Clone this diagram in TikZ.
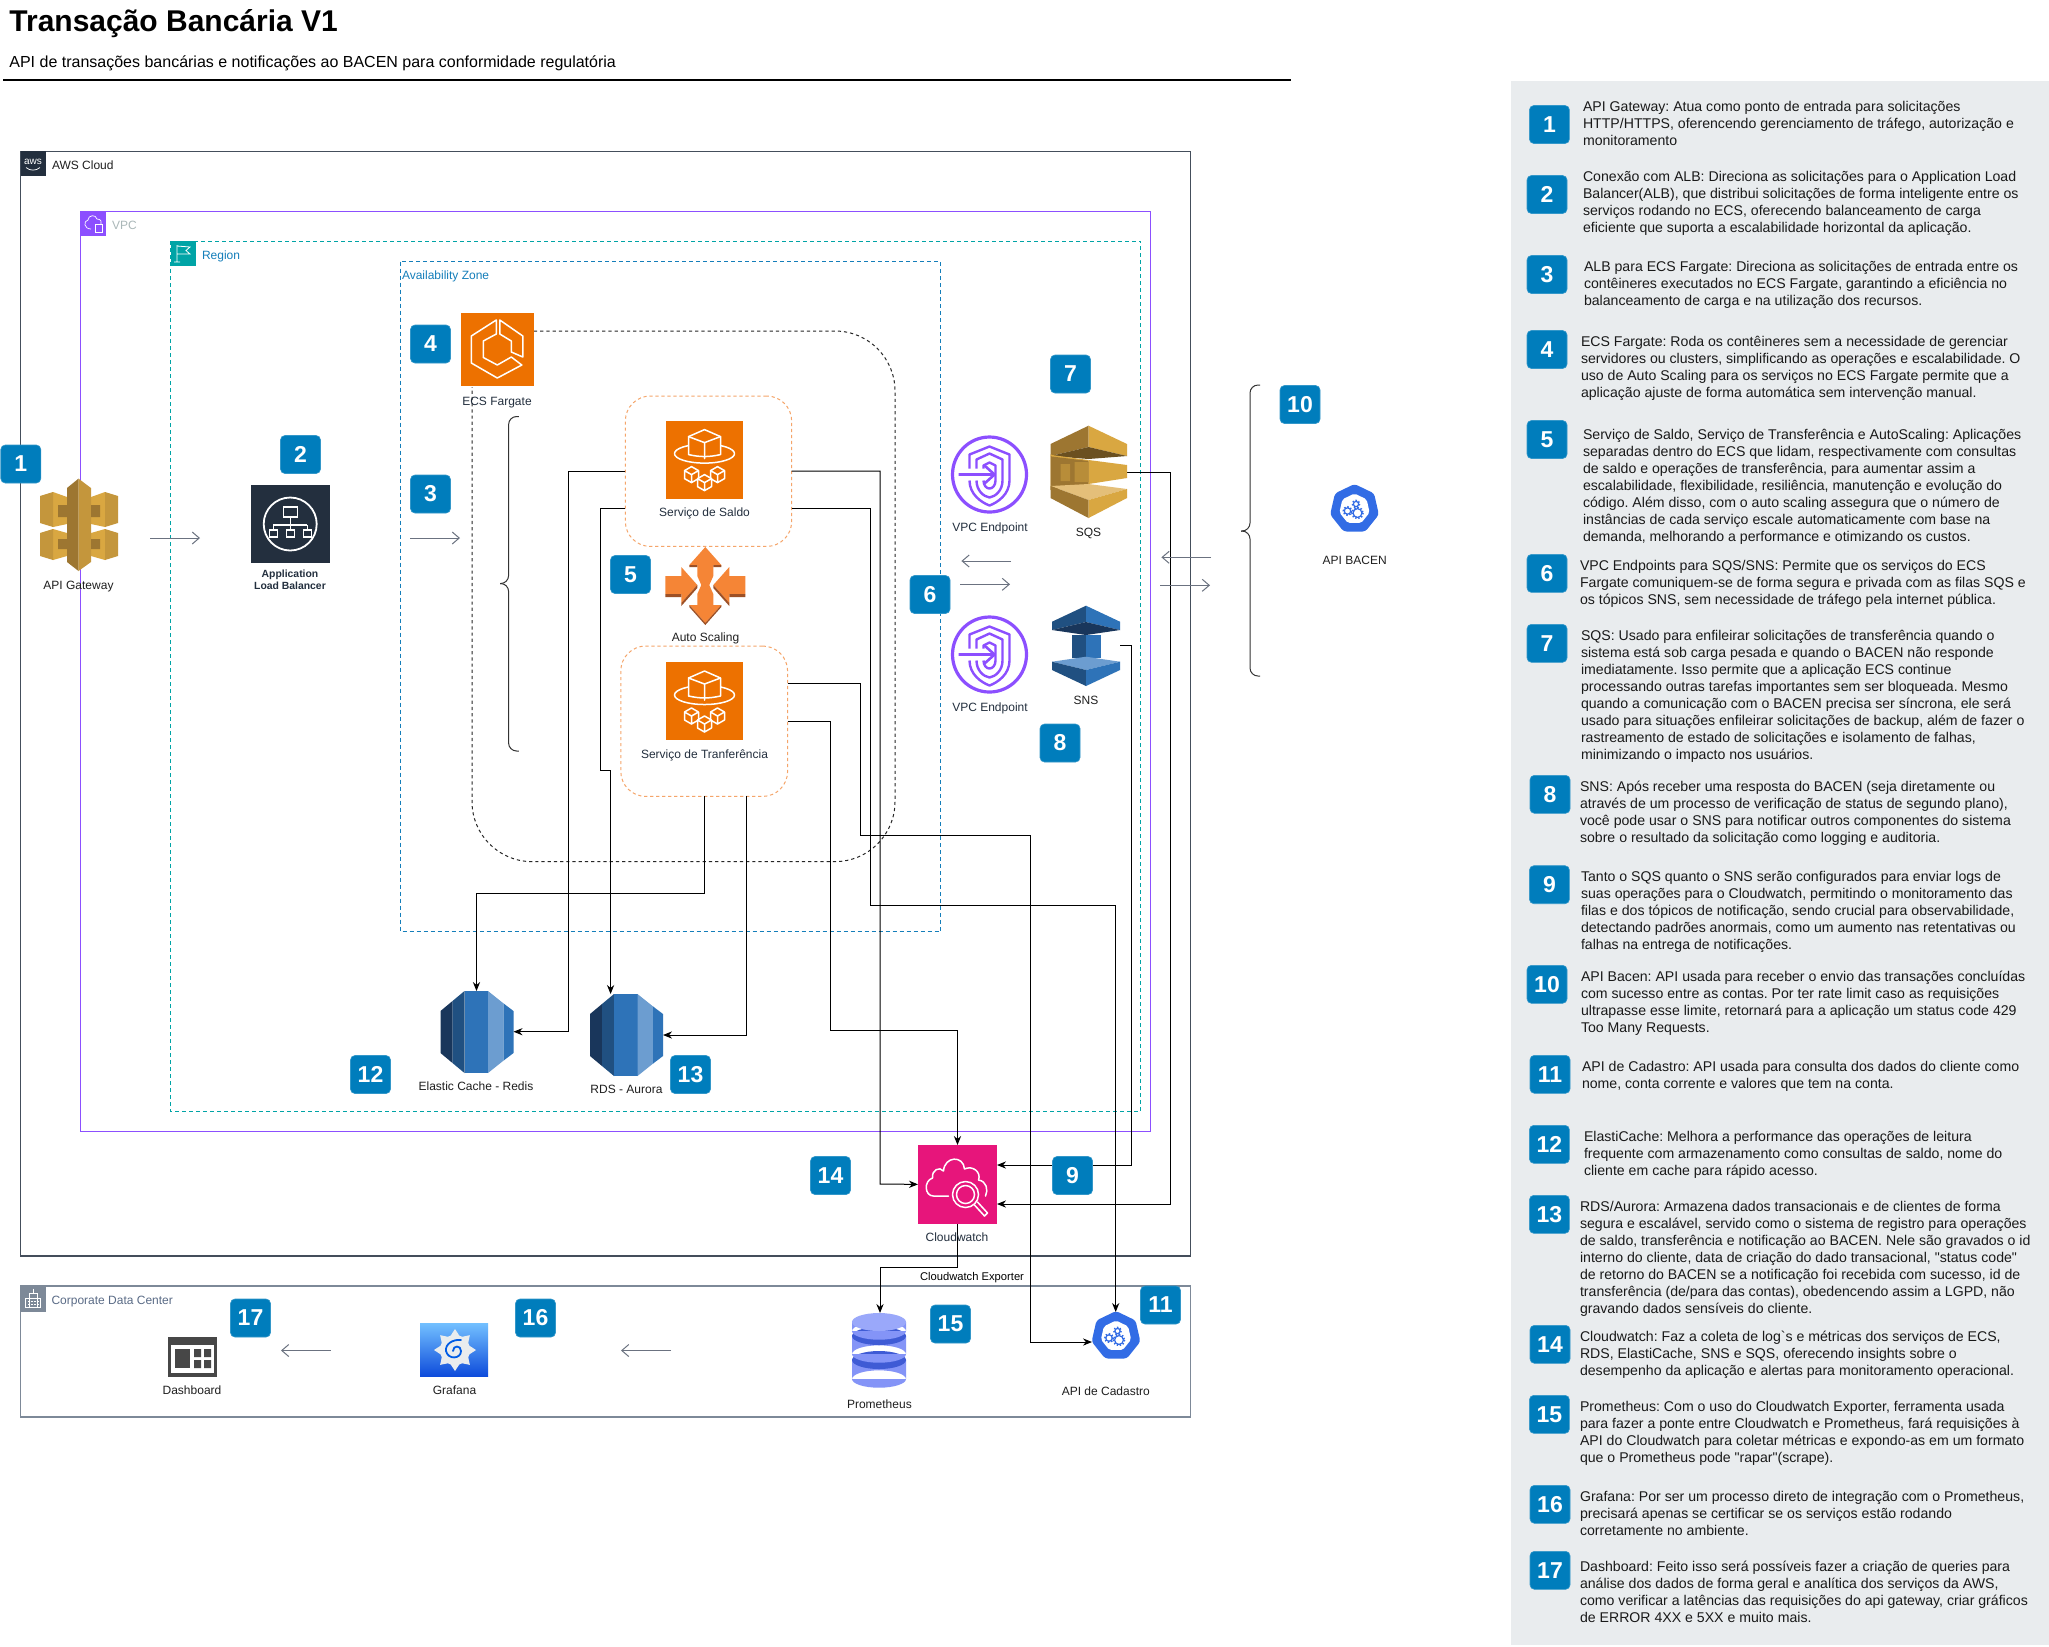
\documentclass[tikz,border=0pt]{standalone}
\usepackage{fontspec}
\newfontfamily\arial{Liberation Sans}
\usetikzlibrary{arrows.meta}
\definecolor{badgeblue}{HTML}{007DBC}
\definecolor{panelgrey}{HTML}{E9ECEE}
\definecolor{awsdark}{HTML}{232F3E}
\definecolor{vpcpurple}{HTML}{8C4FFF}
\definecolor{regionteal}{HTML}{00A4A6}
\definecolor{azblue}{HTML}{147EBA}
\definecolor{vpcgrey}{HTML}{AAB7B8}
\definecolor{corpgrey}{HTML}{7D8998}
\definecolor{corptext}{HTML}{5A6B86}
\definecolor{arrowgrey}{HTML}{6B7280}
\definecolor{ecsorange}{HTML}{ED7100}
\definecolor{dashorange}{HTML}{F5A56A}
\definecolor{asorange}{HTML}{F58536}
\definecolor{asdark}{HTML}{9D5025}
\definecolor{golddark}{HTML}{9D7631}
\definecolor{gold}{HTML}{D9A741}
\definecolor{goldmid}{HTML}{C4963C}
\definecolor{goldlight}{HTML}{E4BF79}
\definecolor{goldshade}{HTML}{6B5020}
\definecolor{snsdark}{HTML}{205081}
\definecolor{snsmid}{HTML}{2E73B8}
\definecolor{snslight}{HTML}{6C9DD0}
\definecolor{snsdeep}{HTML}{19365B}
\definecolor{cwpink}{HTML}{E7157B}
\definecolor{kblue}{HTML}{326CE5}
\definecolor{promlight}{HTML}{9AA8FA}
\definecolor{prommid}{HTML}{8494F7}
\definecolor{promdark}{HTML}{3F5BD5}
\tikzset{
  badge/.style={rectangle,rounded corners=2.2pt,fill=badgeblue,draw=badgeblue!80!white,line width=.3pt,
    minimum width=20pt,minimum height=19pt,inner sep=0,text=white,font=\arial\bfseries\fontsize{11.5}{12}\selectfont},
  lbl/.style={inner sep=0,outer sep=0,yshift=-.5pt,font=\arial\fontsize{6}{7}\selectfont,text=black!88,text height=4.3pt,text depth=0pt},
  sidetxt/.style={anchor=north west,inner sep=0,outer sep=0,align=left,text=black!90,font=\arial\frenchspacing\fontsize{7.06}{8.5}\selectfont},
  link/.style={draw=black,line width=.5pt},
  linktip/.style={link,-{Stealth[length=4.5pt,width=3.6pt]}},
  greyarrow/.style={draw=arrowgrey,line width=.5pt,-{Straight Barb[length=3.5pt,width=6pt]}},
  whiteline/.style={draw=white,line width=.75pt,line join=round,line cap=round},
  brace/.style={draw=black!80,line width=.5pt,rounded corners=4pt},
}
\newcommand\iconbox[5]{\node[inner sep=0,outer sep=0,minimum width={((#4)-(#2))*0.5pt},minimum height={((#5)-(#3))*0.5pt}] (#1) at ({((#2)+(#4))/2},{((#3)+(#5))/2}) {};}
\newcommand\sidenote[4]{\node[sidetxt] (#1) at (#2,{#3-8}) {\rule{0pt}{6.5pt}#4};}
\newcommand\svcicon[3]{%
  \iconbox{#1}{#2-38.5}{#3-39}{#2+38.5}{#3+39}
  \fill[ecsorange] (#1.north west) rectangle (#1.south east);
  \begin{scope}[shift={(#2,#3)}]
    \draw[whiteline] (0,-6) ellipse (30 and 9.5);
    \fill[ecsorange] (0,-30)--(16,-23)--(16,-5)--(0,0)--(-16,-5)--(-16,-23)--cycle;
    \draw[whiteline] (0,-30)--(16,-23)--(16,-5) to[bend left=12] (-16,-5)--(-16,-23)--cycle;
    \draw[whiteline] (-16,-23)--(0,-17)--(16,-23) (0,-17)--(0,-1);
    \foreach \cx/\cy in {-13/15,13/15,0/23}{
      \begin{scope}[shift={(\cx,\cy)}]
        \fill[ecsorange] (0,-8)--(7,-4)--(7,4)--(0,8)--(-7,4)--(-7,-4)--cycle;
        \draw[whiteline] (0,-8)--(7,-4)--(7,4)--(0,8)--(-7,4)--(-7,-4)--cycle (-7,-4)--(0,0)--(7,-4) (0,0)--(0,8);
      \end{scope}}
  \end{scope}}
\newcommand\vpcicon[3]{%
  \iconbox{#1}{#2-38.5}{#3-38.5}{#2+38.5}{#3+38.5}
  \begin{scope}[shift={(#2,#3)},draw=vpcpurple,line width=1.2pt,line join=round]
    \draw[line width=1.6pt] (0,0) ellipse (37 and 37.5);
    \draw (-20,-6)--(-20,-20)--(0,-28)--(20,-20)--(20,6) .. controls (20,20) and (8,28) .. (0,31) .. controls (-8,28) and (-20,20) .. (-20,6);
    \draw (-13,-6)--(-13,-15)--(0,-21)--(13,-15)--(13,6) .. controls (13,16) and (6,22) .. (0,23) .. controls (-6,22) and (-13,16) .. (-13,6);
    \draw (-6,-6)--(-6,-9)--(0,-12)--(6,-9)--(6,6) .. controls (6,11) and (3,14) .. (0,14) .. controls (-3,14) and (-6,11) .. (-6,6);
    \fill[white] (-25,-5) rectangle (-2,5);
    \draw[line width=1.3pt] (-31,0)--(5,0) (-5,-9)--(5,0)--(-5,9);
  \end{scope}}
\newcommand\dbicon[3]{%
  \iconbox{#1}{#2}{#3}{#2+73}{#3+82}
  \begin{scope}[shift={(#2,#3)}]
    \fill[snsdeep] (0,20)--(12,10)--(12,72)--(0,62)--cycle;
    \fill[snsdark] (12,10)--(24,0)--(24,82)--(12,72)--cycle;
    \fill[snsmid] (24,0)--(47.5,0)--(47.5,82)--(24,82)--cycle;
    \fill[snslight] (47.5,0)--(63,12.4)--(63,69.6)--(47.5,82)--cycle;
    \fill[snsmid] (63,12.4)--(73,20)--(73,62)--(63,69.6)--cycle;
  \end{scope}}
\newcommand\kube[3]{%
  \iconbox{#1}{#2-24}{#3-24}{#2+24}{#3+24}
  \begin{scope}[shift={(#2,#3)}]
    \fill[kblue,rounded corners=1.5pt] (-90:25)--(-38.6:25)--(12.9:25)--(64.3:25)--(115.7:25)--(167.1:25)--(218.6:25)--cycle;
    \fill[white,rounded corners=1pt] (-90:15.5)--(-38.6:15.5)--(12.9:15.5)--(64.3:15.5)--(115.7:15.5)--(167.1:15.5)--(218.6:15.5)--cycle;
    \draw[kblue,line width=.6pt] (-7,2) circle (3.2) (3,4) circle (4.4) (1.5,-5) circle (2.6);
    \draw[kblue,line width=.8pt,dash pattern=on .7pt off .9pt] (-7,2) circle (4.2) (3,4) circle (5.6) (1.5,-5) circle (3.6);
  \end{scope}}
\begin{document}
\begin{tikzpicture}[x=0.5pt,y=-0.5pt]
\path[use as bounding box,fill=white] (0,0) rectangle (2049,1646);
% title
\node[anchor=west,inner sep=0,font=\arial\bfseries\fontsize{15}{18}\selectfont] (title) at (9,23.5) {Transação Bancária V1};
\node[anchor=west,inner sep=0,font=\arial\fontsize{8}{10}\selectfont] (subtitle) at (9,63) {API de transações bancárias e notificações ao BACEN para conformidade regulatória};
\draw[line width=1pt] (3,80)--(1291,80);
% panel
\fill[panelgrey] (1510.5,81) rectangle (2049,1645);
% groups
\draw[awsdark!85!white,line width=.55pt] (20.5,151.5) rectangle (1190.5,1256);
\draw[vpcpurple,line width=.5pt] (80.5,211.5) rectangle (1150.5,1131);
\draw[regionteal,line width=.5pt,dash pattern=on 2pt off 1.5pt] (170.5,241) rectangle (1140.7,1111.3);
\draw[azblue,line width=.5pt,dash pattern=on 2pt off 1.5pt] (400.5,261.5) rectangle (940.7,931.5);
\draw[corpgrey,line width=.55pt] (20.5,1286) rectangle (1190.5,1417);
% group tags
\iconbox{tagaws}{20.5}{151}{45.5}{176}
\fill[awsdark] (tagaws.north west) rectangle (tagaws.south east);
\node[inner sep=0,text=white,font=\arial\fontsize{5}{5}\selectfont] (tagawst) at (33,161.5) {aws};
\draw[white,line width=.35pt] (26,167.5) .. controls (30,171) and (36,171) .. (40,167.5);
\node[lbl,anchor=west] (lblaws) at (52,164.5) {AWS Cloud};
\iconbox{tagvpc}{80.5}{211.5}{105.5}{236}
\fill[vpcpurple] (tagvpc.north west) rectangle (tagvpc.south east);
\draw[white,line width=.35pt] (91,229) .. controls (84,229) and (83,221) .. (88,220) .. controls (88,215) and (96,214) .. (97,219) .. controls (101,219) and (102,222) .. (101,224);
\draw[white,line width=.4pt] (95,224) rectangle (102,232);
\node[lbl,anchor=west,text=vpcgrey] (lblvpc) at (112,224) {VPC};
\iconbox{tagreg}{170.5}{241}{195.5}{266}
\fill[regionteal] (tagreg.north west) rectangle (tagreg.south east);
\draw[white,line width=.4pt] (177,245)--(177,262) (174,262)--(180,262) (177,246)--(190,247)--(186,250.5)--(190,254)--(177,254);
\node[lbl,anchor=west,text=azblue] (lblreg) at (202,254.5) {Region};
\node[lbl,anchor=west,text=azblue] (lblaz) at (402,274.5) {Availability Zone};
\iconbox{tagcorp}{20.5}{1286}{45.5}{1311.7}
\fill[corpgrey] (tagcorp.north west) rectangle (tagcorp.south east);
\draw[white,line width=.35pt] (29,1293) rectangle (37,1307) (25.5,1298) rectangle (40.5,1307) (33,1288.5)--(33,1293);
\draw[white,line width=.5pt,dash pattern=on .8pt off .8pt] (28,1301)--(38,1301) (28,1304)--(38,1304);
\node[lbl,anchor=west,text=corptext] (lblcorp) at (51.5,1299) {Corporate Data Center};
% icon anchors needed by connectors
\iconbox{ecs}{460.5}{312.5}{534}{386}
\node[draw=dashorange,line width=.5pt,dash pattern=on 1.6pt off 1.4pt,rounded corners=12.5pt,inner sep=0,outer sep=0,minimum width=83.15pt,minimum height=75.2pt] (boxsaldo) at (708.5,471.2) {};
\node[draw=dashorange,line width=.5pt,dash pattern=on 1.6pt off 1.4pt,rounded corners=12.5pt,inner sep=0,outer sep=0,minimum width=83.4pt,minimum height=75.2pt] (boxtransf) at (704.2,721.2) {};
\dbicon{elastic}{440.5}{991}
\dbicon{rds}{590}{994}
\iconbox{sqs}{1050.5}{425.7}{1127}{518}
\iconbox{sns}{1052}{605.7}{1120}{686}
\iconbox{cw}{918}{1145}{997}{1223.7}
\iconbox{prom}{852}{1313}{906}{1387.7}
\kube{cadastro}{1116}{1336}
\kube{bacen}{1354.5}{509}
% ECS group dashed outline
\draw[black!85,line width=.5pt,dash pattern=on 1.6pt off 1.5pt,rounded corners=30pt] (ecs.east |- 0,331) -- (895,331) -- (895,861.6) -- (472,861.6) -- (472,387);
% braces
\draw[brace] (518.8,416.5) -- (508.6,416.5) -- (508.6,583.5) -- (500,583.5);
\draw[brace] (500,583.5) -- (508.6,583.5) -- (508.6,751) -- (518.8,751);
\draw[brace] (1260,385) -- (1250,385) -- (1250,531) -- (1241,531);
\draw[brace] (1241,531) -- (1250,531) -- (1250,676) -- (1260,676);
% connectors
\draw[linktip] (boxsaldo.west |- 0,471) -- (568.8,471) -- (568.8,1031.7) -- (elastic.east |- 0,1031.7);
\draw[linktip] (boxsaldo.west |- 0,508.5) -- (600.4,508.5) -- (600.4,770) -- (610.6,770) -- (rds.north -| 610.6,0);
\draw[linktip] (boxsaldo.east |- 0,471) -- (880,471) -- (880,1184) -- (cw.west);
\draw[linktip] (boxsaldo.east |- 0,508.5) -- (870.3,508.5) -- (870.3,905.4) -- (1115.7,905.4) -- (cadastro.north -| 1115.7,0);
\draw[linktip] (boxtransf.east |- 0,683.5) -- (860.6,683.5) -- (860.6,835) -- (1030.3,835) -- (1030.3,1342) -- (cadastro.west |- 0,1342);
\draw[linktip] (boxtransf.east |- 0,721) -- (830.5,721) -- (830.5,1030) -- (957.5,1030) -- (cw.north);
\draw[linktip] (boxtransf.south -| 704.5,0) -- (704.5,893.8) -- (476.5,893.8) -- (elastic.north -| 476.5,0);
\draw[linktip] (boxtransf.south -| 746,0) -- (746,1035) -- (rds.east |- 0,1035);
\draw[linktip] (sqs.east |- 0,472) -- (1170.5,472) -- (1170.5,1204) -- (cw.east |- 0,1204);
\draw[linktip] (sns.east |- 0,645.7) -- (1131,645.7) -- (1131,1165) -- (cw.east |- 0,1165);
\draw[linktip] (cw.south) -- (957.5,1267) -- (880,1267) -- (prom.north -| 880,0);
% grey arrows
\coordinate (gwout) at (150,538); \coordinate (albin) at (200,538);
\coordinate (alb2) at (410,538); \coordinate (ecs2) at (460,538);
\draw[greyarrow] (gwout) -- (albin);
\draw[greyarrow] (alb2) -- (ecs2);
\coordinate (va) at (1011,561); \coordinate (vb) at (961.4,561);
\coordinate (vc) at (960,584.3); \coordinate (vd) at (1010,584.3);
\draw[greyarrow] (va) -- (vb);
\draw[greyarrow] (vc) -- (vd);
\coordinate (ba) at (1211,557.3); \coordinate (bb) at (1161.4,557.3);
\coordinate (bc) at (1160,585.3); \coordinate (bd) at (1210,585.3);
\draw[greyarrow] (ba) -- (bb);
\draw[greyarrow] (bc) -- (bd);
\coordinate (pa) at (671,1350.5); \coordinate (pb) at (621,1350.5);
\coordinate (pc) at (330.7,1350.5); \coordinate (pd) at (281,1350.5);
\draw[greyarrow] (pa) -- (pb);
\draw[greyarrow] (pc) -- (pd);
% API Gateway
\iconbox{gateway}{40}{478.6}{117}{571}
\begin{scope}
  \foreach \sx/\ox in {1/0,-1/158}{
  \begin{scope}[shift={(\ox,0)},xscale=\sx]
    \fill[gold] (53,492)--(67,497)--(67,505)--(58,505)--(58,517)--(67,517)--(67,524)--(53,527)--cycle;
    \fill[goldmid] (40,496)--(53,492)--(53,527)--(40,523)--cycle;
    \fill[gold] (53,529)--(67,533)--(67,539)--(58,539)--(58,549)--(67,549)--(67,556)--(53,560)--cycle;
    \fill[goldmid] (40,533)--(53,529)--(53,560)--(40,556)--cycle;
  \end{scope}}
  \fill[golddark] (67,488)--(78.5,478.6)--(78.5,571)--(67,562)--cycle;
  \fill[goldmid] (78.5,478.6)--(91,488)--(91,562)--(78.5,571)--cycle;
  \fill[golddark] (58,505) rectangle (67,517) (58,539) rectangle (67,549);
  \fill[golddark] (91,505) rectangle (100,517) (91,539) rectangle (100,549);
\end{scope}
\node[lbl] (lblgw) at (78.5,584.5) {API Gateway};
% ALB
\iconbox{alb}{251}{485}{329.5}{563}
\fill[awsdark] (alb.north west) rectangle (alb.south east);
\begin{scope}[shift={(290.2,524)}]
  \draw[white,line width=.9pt] (0,0) circle (26.5);
  \draw[white,line width=.6pt] (-7,-17) rectangle (7,-7) (0,-7)--(0,1) (-17,1)--(17,1) (-17,1)--(-17,6) (0,1)--(0,6) (17,1)--(17,6);
  \draw[white,line width=.6pt] (-21,6) rectangle (-13,13) (-4,6) rectangle (4,13) (13,6) rectangle (21,13);
\end{scope}
\node[inner sep=0,outer sep=0,align=center,text=awsdark,font=\arial\bfseries\fontsize{5.2}{6}\selectfont] (lblalb) at (290,579.5) {Application\\Load Balancer};
% ECS Fargate
\fill[ecsorange] (ecs.north west) rectangle (ecs.south east);
\begin{scope}[shift={(497.3,349)}]
  \draw[whiteline] (-1,-29)--(-26,-13)--(-26,14)--(0,29)--(24.5,16)--(14,8)--(0,16)--(-14,8.5)--(-14,-8)--(-1,-15)--cycle;
  \draw[whiteline] (2.5,-29)--(25.5,-13)--(25.5,8)--(14,3)--(14,-8)--(2.5,-15)--cycle;
\end{scope}
\node[lbl,text=awsdark] (lblecs) at (497,400) {ECS Fargate};
% services
\svcicon{saldo}{704.5}{459.6}
\node[lbl,text=awsdark] (lblsaldo) at (704.5,511.5) {Serviço de Saldo};
\svcicon{transf}{704.5}{701}
\node[lbl,text=awsdark] (lbltransf) at (704.5,753.5) {Serviço de Tranferência};
% Auto scaling
\iconbox{scaling}{665.7}{547}{745}{623}
\begin{scope}[shift={(705.3,585)}]
  \fill[asorange] (0,-38)--(16,-20)--(8,-20)--(8,-9)--(4,0)--(8,9)--(8,20)--(16,20)--(0,38)--(-16,20)--(-8,20)--(-8,9)--(-4,0)--(-8,-9)--(-8,-20)--(-16,-20)--cycle;
  \fill[asorange] (-40,-9)--(-24,-9)--(-24,-18)--(-8,0)--(-24,18)--(-24,9)--(-40,9)--cycle;
  \fill[asorange] (40,-9)--(24,-9)--(24,-18)--(8,0)--(24,18)--(24,9)--(40,9)--cycle;
  \fill[asdark] (-40,9)--(-24,9)--(-24,12)--(-40,12)--cycle (-24,18)--(-8,0)--(-8,3)--(-24,21)--cycle;
  \fill[asdark] (40,9)--(24,9)--(24,12)--(40,12)--cycle (24,18)--(8,0)--(8,3)--(24,21)--cycle;
  \fill[asdark] (-16,-20)--(-8,-20)--(-8,-18)--(-16,-18)--cycle (16,-20)--(8,-20)--(8,-18)--(16,-18)--cycle;
  \fill[asdark] (-16,20)--(0,38)--(16,20)--(16,22)--(0,40)--(-16,22)--cycle;
\end{scope}
\node[lbl] (lblscaling) at (705.5,636.5) {Auto Scaling};
% VPC endpoints
\vpcicon{vpce1}{989.5}{474.5}
\node[lbl,text=awsdark] (lblvpce1) at (990,526.5) {VPC Endpoint};
\vpcicon{vpce2}{989.5}{654.5}
\node[lbl,text=awsdark] (lblvpce2) at (990,706.5) {VPC Endpoint};
% SQS
\fill[golddark] (1050.5,444)--(1088.5,425.7)--(1088.5,447)--(1050.5,456)--cycle;
\fill[gold] (1088.5,425.7)--(1127,444)--(1127,456)--(1088.5,447)--cycle;
\fill[goldshade] (1050.5,456)--(1088.5,447)--(1127,456)--(1088.5,459)--cycle;
\fill[gold] (1050.5,454)--(1052,455)--(1088.5,460)--(1088.5,484)--(1050.5,490)--cycle;
\fill[golddark] (1052,456.5)--(1088.5,461)--(1088.5,484)--(1050.5,490)--(1050.5,456)--cycle;
\fill[gold] (1088.5,460)--(1127,465)--(1127,478)--(1088.5,484)--cycle;
\fill[goldmid!70!golddark] (1060.5,464) rectangle (1070,481) (1074.5,462) rectangle (1088.5,482);
\fill[goldlight] (1050.5,486)--(1088.5,484)--(1127,489)--(1088.5,500)--cycle;
\fill[golddark] (1050.5,486)--(1088.5,500)--(1088.5,518)--(1050.5,498)--cycle;
\fill[gold] (1088.5,500)--(1127,489)--(1127,498)--(1088.5,518)--cycle;
\node[lbl] (lblsqs) at (1088.5,531.5) {SQS};
% SNS
\fill[snsdark] (1052,621.7)--(1086,605.7)--(1086,622)--(1052,630)--cycle;
\fill[snsmid] (1086,605.7)--(1120,621.7)--(1120,630)--(1086,622)--cycle;
\fill[snsdeep] (1052,630)--(1086,622)--(1120,630)--(1086,635)--cycle;
\fill[snsdark] (1071.6,635) rectangle (1086,658);
\fill[snsmid] (1086,635) rectangle (1101,658);
\fill[snslight] (1052,661.7)--(1086,656.7)--(1120,661.7)--(1086,670)--cycle;
\fill[snsdark] (1052,661.7)--(1086,670)--(1086,686)--(1052,670)--cycle;
\fill[snsmid] (1120,661.7)--(1086,670)--(1086,686)--(1120,670)--cycle;
\node[lbl] (lblsns) at (1086,699.5) {SNS};
\node[lbl] (lblbacen) at (1354.7,559.5) {API BACEN};
% DB labels
\node[lbl] (lblelastic) at (476,1085.5) {Elastic Cache - Redis};
\node[lbl] (lblrds) at (626.5,1088.5) {RDS - Aurora};
% Cloudwatch
\fill[cwpink] (cw.north west) rectangle (cw.south east);
\begin{scope}[shift={(957.5,1184)}]
  \draw[whiteline] (-9,12)--(-24,12) .. controls (-33,12) and (-34,-3) .. (-25,-6) .. controls (-26,-14) and (-18,-18) .. (-14,-13) .. controls (-13,-28) and (6,-29) .. (7,-15) .. controls (15,-19) and (24,-12) .. (21,-4) .. controls (29,-3) and (31,6) .. (28,12);
  \fill[cwpink] (8,10.5) circle (13);
  \draw[whiteline] (8,10.5) circle (13) (8,10.5) circle (9);
  \draw[whiteline] (17,21)--(27,32)--(30,29)--(20,18);
\end{scope}
\node[lbl,text=awsdark] (lblcw) at (957,1236.5) {Cloudwatch};
\node[lbl,font=\arial\fontsize{5.6}{7}\selectfont,text=black] (lblexp) at (972,1275) {Cloudwatch Exporter};
% Prometheus
\fill[prommid] (852,1360) rectangle (906,1379) (879,1379) ellipse (27 and 8.7);
\fill[promdark] (879,1360) ellipse (27 and 9);
\fill[prommid] (852,1336) rectangle (906,1354) (879,1354) ellipse (27 and 8.7);
\fill[promdark] (879,1336) ellipse (27 and 9);
\fill[prommid] (852,1322) rectangle (906,1331) (879,1331) ellipse (27 and 8.7);
\fill[promlight] (879,1322) ellipse (27 and 9);
\node[lbl] (lblprom) at (879.4,1403.5) {Prometheus};
\node[lbl] (lblcad) at (1105.8,1390.5) {API de Cadastro};
% Grafana
\iconbox{grafana}{420}{1323}{488}{1376.7}
\shade[top color=blue!45!cyan!55!white,bottom color=blue!70!cyan!85!black!95] (grafana.north west) rectangle (grafana.south east);
\begin{scope}[shift={(455,1350)}]
  \fill[panelgrey] (0,0) circle (15);
  \foreach \a in {0,45,...,315}{\fill[panelgrey] (\a-22:14)--(\a:21)--(\a+22:14)--cycle;}
  \draw[blue!60!cyan!90!black,line width=.9pt,line cap=round] (-2,1) .. controls (-2,-5) and (6,-5) .. (6,1) .. controls (6,9) and (-7,10) .. (-9,1) .. controls (-10,-6) and (-2,-11) .. (6,-10);
\end{scope}
\node[lbl] (lblgraf) at (454.5,1389.5) {Grafana};
% Dashboard
\iconbox{dash}{168}{1337}{217}{1376.7}
\fill[black!72] (dash.north west) rectangle (dash.south east);
\fill[white] (171,1345) rectangle (214,1373);
\fill[black!72] (175,1349) rectangle (190,1368);
\fill[black!72] (194,1349) rectangle (201,1357) (204,1349) rectangle (211,1357) (194,1360) rectangle (201,1368) (204,1360) rectangle (211,1368);
\node[lbl] (lbldash) at (192,1389.5) {Dashboard};
% diagram badges
\node[badge] (n1) at (20.8,464) {1};
\node[badge] (n2) at (300.5,454.5) {2};
\node[badge] (n3) at (430.5,494) {3};
\node[badge] (n4) at (430.5,344) {4};
\node[badge] (n5) at (630.5,574.5) {5};
\node[badge] (n6) at (930,594.5) {6};
\node[badge] (n7) at (1070.5,374) {7};
\node[badge] (n8) at (1060,743) {8};
\node[badge] (n9) at (1072.5,1175.5) {9};
\node[badge] (n10) at (1300,404.5) {10};
\node[badge] (n11) at (1160.5,1305) {11};
\node[badge] (n12) at (370.5,1074.5) {12};
\node[badge] (n13) at (690.5,1074.5) {13};
\node[badge] (n14) at (830.5,1175.5) {14};
\node[badge] (n15) at (950.5,1324) {15};
\node[badge] (n16) at (535.5,1318) {16};
\node[badge] (n17) at (250.5,1318) {17};
% side badges
\node[badge] (s1) at (1549.4,124.5) {1};
\node[badge] (s2) at (1547,194.5) {2};
\node[badge] (s3) at (1547,274.5) {3};
\node[badge] (s4) at (1547,349.5) {4};
\node[badge] (s5) at (1547,439.5) {5};
\node[badge] (s6) at (1547,573.4) {6};
\node[badge] (s7) at (1547,643.3) {7};
\node[badge] (s8) at (1550,794.3) {8};
\node[badge] (s9) at (1549.4,884.7) {9};
\node[badge] (s10) at (1547,984.3) {10};
\node[badge] (s11) at (1550,1074.3) {11};
\node[badge] (s12) at (1549.4,1144.3) {12};
\node[badge] (s13) at (1549.4,1214.3) {13};
\node[badge] (s14) at (1550,1344.3) {14};
\node[badge] (s15) at (1549.4,1414.3) {15};
\node[badge] (s16) at (1550,1504.3) {16};
\node[badge] (s17) at (1550,1570.3) {17};
% side texts
\sidenote{t1}{1583}{106}{API Gateway: Atua como ponto de entrada para solicitações\\HTTP/HTTPS, oferencendo gerenciamento de tráfego, autorização e\\monitoramento}
\sidenote{t2}{1583}{176}{Conexão com ALB: Direciona as solicitações para o Application Load\\Balancer(ALB), que distribui solicitações de forma inteligente entre os\\serviços rodando no ECS, oferecendo balanceamento de carga\\eficiente que suporta a escalabilidade horizontal da aplicação.}
\sidenote{t3}{1584}{266}{ALB para ECS Fargate: Direciona as solicitações de entrada entre os\\contêineres executados no ECS Fargate, garantindo a eficiência no\\balanceamento de carga e na utilização dos recursos.}
\sidenote{t4}{1581}{341}{ECS Fargate: Roda os contêineres sem a necessidade de gerenciar\\servidores ou clusters, simplificando as operações e escalabilidade. O\\uso de Auto Scaling para os serviços no ECS Fargate permite que a\\aplicação ajuste de forma automática sem intervenção manual.}
\sidenote{t5}{1583}{434}{Serviço de Saldo, Serviço de Transferência e AutoScaling: Aplicações\\separadas dentro do ECS que lidam, respectivamente com consultas\\de saldo e operações de transferência, para aumentar assim a\\escalabilidade, flexibilidade, resiliência, manutenção e evolução do\\código. Além disso, com o auto scaling assegura que o número de\\instâncias de cada serviço escale automaticamente com base na\\demanda, melhorando a performance e otimizando os custos.}
\sidenote{t6}{1580}{565}{VPC Endpoints para SQS/SNS: Permite que os serviços do ECS\\Fargate comuniquem-se de forma segura e privada com as filas SQS e\\os tópicos SNS, sem necessidade de tráfego pela internet pública.}
\sidenote{t7}{1581}{635}{SQS: Usado para enfileirar solicitações de transferência quando o\\sistema está sob carga pesada e quando o BACEN não responde\\imediatamente. Isso permite que a aplicação ECS continue\\processando outras tarefas importantes sem ser bloqueada. Mesmo\\quando a comunicação com o BACEN precisa ser síncrona, ele será\\usado para situações enfileirar solicitações de backup, além de fazer o\\rastreamento de estado de solicitações e isolamento de falhas,\\minimizando o impacto nos usuários.}
\sidenote{t8}{1580}{786}{SNS: Após receber uma resposta do BACEN (seja diretamente ou\\através de um processo de verificação de status de segundo plano),\\você pode usar o SNS para notificar outros componentes do sistema\\sobre o resultado da solicitação como logging e auditoria.}
\sidenote{t9}{1581}{876}{Tanto o SQS quanto o SNS serão configurados para enviar logs de\\suas operações para o Cloudwatch, permitindo o monitoramento das\\filas e dos tópicos de notificação, sendo crucial para observabilidade,\\detectando padrões anormais, como um aumento nas retentativas ou\\falhas na entrega de notificações.}
\sidenote{t10}{1581}{976}{API Bacen: API usada para receber o envio das transações concluídas\\com sucesso entre as contas. Por ter rate limit caso as requisições\\ultrapasse esse limite, retornará para a aplicação um status code 429\\Too Many Requests.}
\sidenote{t11}{1582}{1066}{API de Cadastro: API usada para consulta dos dados do cliente como\\nome, conta corrente e valores que tem na conta.}
\sidenote{t12}{1584}{1136}{ElastiCache: Melhora a performance das operações de leitura\\frequente com armazenamento como consultas de saldo, nome do\\cliente em cache para rápido acesso.}
\sidenote{t13}{1580}{1206}{RDS/Aurora: Armazena dados transacionais e de clientes de forma\\segura e escalável, servido como o sistema de registro para operações\\de saldo, transferência e notificação ao BACEN. Nele são gravados o id\\interno do cliente, data de criação do dado transacional, "status code"\\de retorno do BACEN se a notificação foi recebida com sucesso, id de\\transferência (de/para das contas), obedencendo assim a LGPD, não\\gravando dados sensíveis do cliente.}
\sidenote{t14}{1580}{1336}{Cloudwatch: Faz a coleta de log`s e métricas dos serviços de ECS,\\RDS, ElastiCache, SNS e SQS, oferecendo insights sobre o\\desempenho da aplicação e alertas para monitoramento operacional.}
\sidenote{t15}{1580}{1406}{Prometheus: Com o uso do Cloudwatch Exporter, ferramenta usada\\para fazer a ponte entre Cloudwatch e Prometheus, fará requisições à\\API do Cloudwatch para coletar métricas e expondo-as em um formato\\que o Prometheus pode "rapar"(scrape).}
\sidenote{t16}{1580}{1496}{Grafana: Por ser um processo direto de integração com o Prometheus,\\precisará apenas se certificar se os serviços estão rodando\\corretamente no ambiente.}
\sidenote{t17}{1580}{1566}{Dashboard: Feito isso será possíveis fazer a criação de queries para\\análise dos dados de forma geral e analítica dos serviços da AWS,\\como verificar a latências das requisições do api gateway, criar gráficos\\de ERROR 4XX e 5XX e muito mais.}
\end{tikzpicture}
\end{document}
